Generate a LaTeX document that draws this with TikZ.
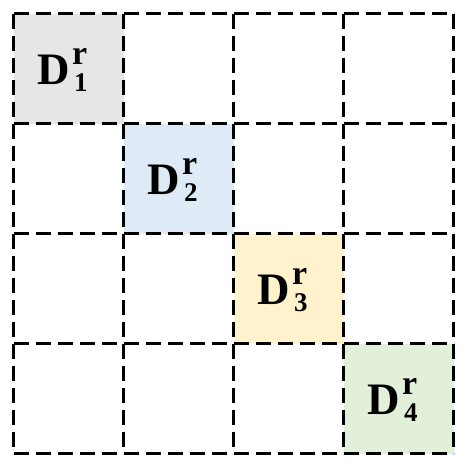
\documentclass[tikz,border=0pt]{standalone}
\usepackage{fontspec}
\setmainfont{Liberation Serif}
\definecolor{cgray}{HTML}{E7E6E6}
\definecolor{cblue}{HTML}{DEEBF7}
\definecolor{cyellow}{HTML}{FFF2CC}
\definecolor{cgreen}{HTML}{E2F0D9}
\tikzset{
  cellbox/.style={minimum size=110pt, inner sep=0pt, outer sep=0pt},
  gridline/.style={draw=black, line width=3pt, dash pattern=on 15pt off 7pt},
  lbl/.style={inner sep=0pt, anchor=base west}
}
\newcommand{\dlabel}[1]{\bfseries\fontsize{45}{48}\selectfont D\kern2.5pt\makebox[0pt][l]{\raisebox{19.5pt}{\fontsize{34}{34}\selectfont r}}\kern2pt\raisebox{-7pt}{\fontsize{27}{27}\selectfont #1}}
\begin{document}
\begin{tikzpicture}[x=1pt,y=-1pt]
\useasboundingbox (0,0) rectangle (466,466);
\fill[white] (0,0) rectangle (466,466);
\foreach \i in {0,1,2,3}{
  \foreach \j in {0,1,2,3}{
    \node[cellbox] (c\i\j) at ({13.5+55+110*\i},{13.5+55+110*\j}) {};
  }
}
\fill[cgray] (c00.north west) rectangle (c00.south east);
\fill[cblue] (c11.north west) rectangle (c11.south east);
\fill[cyellow] (c22.north west) rectangle (c22.south east);
\fill[cgreen] (c33.north west) rectangle (c33.south east);
% horizontal grid lines
\foreach \j in {0,1,2,3}{
  \draw[gridline] (c0\j.north west) -- (c3\j.north east);
}
\draw[gridline] (c03.south west) -- (c33.south east);
% vertical grid lines
\foreach \i in {0,1,2,3}{
  \draw[gridline] (c\i0.north west) -- (c\i3.south west);
}
\draw[gridline] (c30.north east) -- (c33.south east);
\node[lbl] (l1) at ([shift={(23.5,15.5)}]c00.west) {\dlabel{1}};
\node[lbl] (l2) at ([shift={(23.5,15.5)}]c11.west) {\dlabel{2}};
\node[lbl] (l3) at ([shift={(23.5,15.5)}]c22.west) {\dlabel{3}};
\node[lbl] (l4) at ([shift={(23.5,15.5)}]c33.west) {\dlabel{4}};
\end{tikzpicture}
\end{document}
